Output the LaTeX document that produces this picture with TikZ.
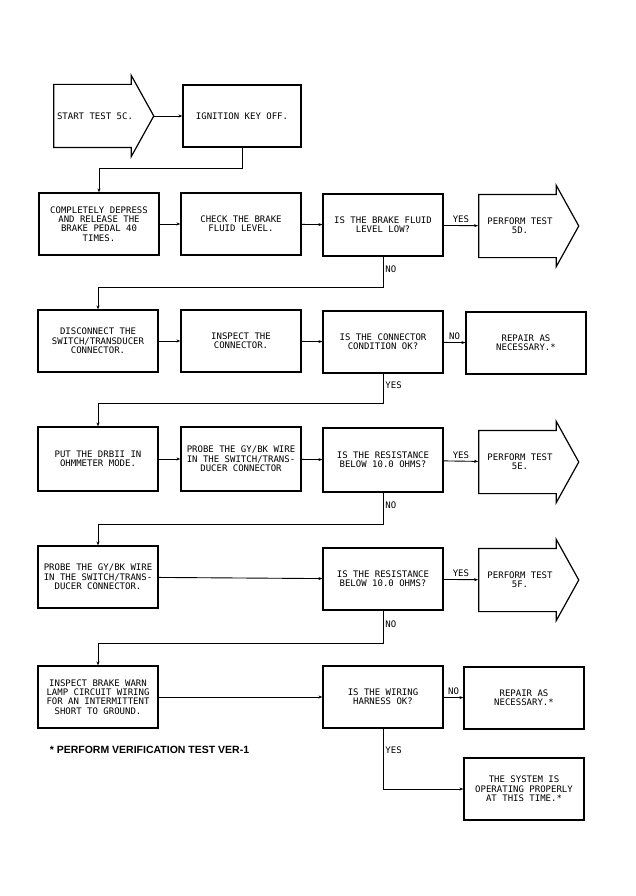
\documentclass[tikz,border=0pt]{standalone}
\usepackage{fontspec}
\usetikzlibrary{shapes.arrows,arrows.meta}
\newfontfamily\dotfont{DejaVu Sans Mono}
\newfontfamily\notefont{Liberation Sans}
\newcommand\boxfont{\dotfont\fontsize{9}{9.4}\selectfont}
\newcommand\arrowtext[1]{\parbox[c][60pt][c]{74pt}{\centering #1}}

\begin{document}
\begin{tikzpicture}[x=1pt,y=-1pt,
        every path/.style={line width=0.9pt},
        link/.style={-{Stealth[length=4pt,width=3pt]}},
        box/.style={draw,line width=1.2pt,minimum width=120pt,minimum height=62pt,
            align=center,font=\boxfont,inner sep=1pt},
        testarrow/.style={single arrow,draw,line width=1.2pt,minimum width=80pt,
            minimum height=100pt,single arrow head extend=9pt,
            single arrow tip angle=122,font=\boxfont,inner sep=1pt},
        answer/.style={font=\boxfont,inner sep=2pt}
    ]
        \useasboundingbox (0,0) rectangle (635,896);

        % first row
        \node [testarrow] (START) at (95,116) {\arrowtext{\makebox[74pt]{START TEST 5C.}}};
        \node [box,minimum width=118pt] (IGN) at (242,116) {IGNITION KEY OFF.};

        % second row
        \node [box] (DEPRESS) at (99,224) {COMPLETELY DEPRESS\\AND RELEASE THE\\BRAKE PEDAL 40\\TIMES.};
        \node [box] (CHECK) at (241,224) {CHECK THE BRAKE\\FLUID LEVEL.};
        \node [box] (FLUIDQ) at (383,225) {IS THE BRAKE FLUID\\LEVEL LOW?};
        \node [testarrow] (T5D) at (520,226) {\arrowtext{PERFORM TEST\\5D.}};

        % third row
        \node [box] (DISC) at (98,341) {DISCONNECT THE\\SWITCH/TRANSDUCER\\CONNECTOR.};
        \node [box] (INSP) at (241,341) {INSPECT THE\\CONNECTOR.};
        \node [box] (CONNQ) at (383,342) {IS THE CONNECTOR\\CONDITION OK?};
        \node [box] (REP1) at (526,343) {REPAIR AS\\NECESSARY.*};

        % fourth row
        \node [box,minimum height=64pt] (PUT) at (98,459) {PUT THE DRBII IN\\OHMMETER MODE.};
        \node [box,minimum height=64pt] (PROBE) at (241,459) {PROBE THE GY/BK WIRE\\IN THE SWITCH/TRANS-\\DUCER CONNECTOR};
        \node [box,minimum height=64pt] (RESQ) at (383,460) {IS THE RESISTANCE\\BELOW 10.0 OHMS?};
        \node [testarrow] (T5E) at (520,462) {\arrowtext{PERFORM TEST\\5E.}};

        % fifth row
        \node [box] (PROBEB) at (98,577) {PROBE THE GY/BK WIRE\\IN THE SWITCH/TRANS-\\DUCER CONNECTOR.};
        \node [box] (RESQB) at (383,579) {IS THE RESISTANCE\\BELOW 10.0 OHMS?};
        \node [testarrow] (T5F) at (520,580) {\arrowtext{PERFORM TEST\\5F.}};

        % sixth row
        \node [box] (WARN) at (98,697) {INSPECT BRAKE WARN\\LAMP CIRCUIT WIRING\\FOR AN INTERMITTENT\\SHORT TO GROUND.};
        \node [box] (WIREQ) at (383,697) {IS THE WIRING\\HARNESS OK?};
        \node [box] (REP2) at (524,698) {REPAIR AS\\NECESSARY.*};
        \node [box] (OK) at (524,789) {THE SYSTEM IS\\OPERATING PROPERLY\\AT THIS TIME.*};

        \node [font=\notefont\bfseries\fontsize{10.5}{12}\selectfont,anchor=west] (NOTE) at (46,750) {* PERFORM VERIFICATION TEST VER-1};

        \draw [link] (START.tip) -- (IGN);
        \draw [link] (IGN.south) -- ++(0,21) -| (DEPRESS.north);
        \draw [link] (DEPRESS) -- (CHECK);
        \draw [link] (CHECK) -- (FLUIDQ);
        \draw [link] (FLUIDQ) -- node[answer,above]{YES} (T5D);
        \draw [link] (FLUIDQ.south) -- node[answer,right,pos=0.4]{NO} ++(0,31) -| (DISC.north);

        \draw [link] (DISC) -- (INSP);
        \draw [link] (INSP) -- (CONNQ);
        \draw [link] (CONNQ) -- node[answer,above]{NO} (REP1);
        \draw [link] (CONNQ.south) -- node[answer,right,pos=0.4]{YES} ++(0,30) -| (PUT.north);

        \draw [link] (PUT) -- (PROBE);
        \draw [link] (PROBE) -- (RESQ);
        \draw [link] (RESQ) -- node[answer,above]{YES} (T5E);
        \draw [link] (RESQ.south) -- node[answer,right,pos=0.4]{NO} ++(0,32) -| (PROBEB.north);

        \draw [link] (PROBEB) -- (RESQB);
        \draw [link] (RESQB) -- node[answer,above]{YES} (T5F);
        \draw [link] (RESQB.south) -- node[answer,right,pos=0.4]{NO} ++(0,33) -| (WARN.north);

        \draw [link] (WARN) -- (WIREQ);
        \draw [link] (WIREQ) -- node[answer,above]{NO} (REP2);
        \draw [link] (WIREQ.south) |- node[answer,right,pos=0.18]{YES} (OK.west);
    \end{tikzpicture}
\end{document}
